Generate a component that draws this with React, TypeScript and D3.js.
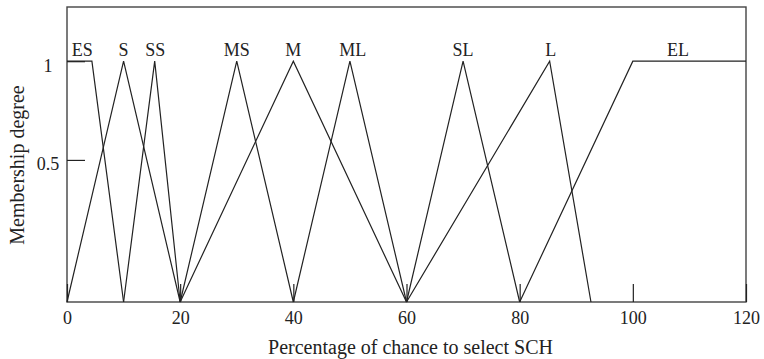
import React, { Component, createRef } from 'react';
import * as d3 from 'd3';

// fuzzy sets: names, break points (x) and membership (y)
const setNames = ['ES', 'S', 'SS', 'MS', 'M', 'ML', 'SL', 'L', 'EL'];
const setXs = [
  [0, 4.4, 10],
  [0, 10, 20],
  [10, 15.5, 20],
  [20, 30, 40],
  [20, 40, 60],
  [40, 50, 60],
  [60, 70, 80],
  [60, 85.3, 92.6],
  [80, 100, 120],
];
const setYs = [
  [1, 1, 0],
  [0, 1, 0],
  [0, 1, 0],
  [0, 1, 0],
  [0, 1, 0],
  [0, 1, 0],
  [0, 1, 0],
  [0, 1, 0],
  [0, 1, 1],
];
// where the set names sit along x
const labelXs = [2.7, 10, 15.6, 30, 40, 50.5, 70, 85.5, 108];

const xTicks = [0, 20, 40, 60, 80, 100, 120];
// the 0.5 mark sits a bit above mid height in the original figure
const yTickValues = [0.59, 1];
const yTickLabels = ['0.5', '1'];

const FONT = '"Liberation Serif", "Times New Roman", serif';

class App extends Component {
  anchor = createRef<SVGGElement>();

  componentDidMount() {
    const g = d3.select(this.anchor.current);
    g.selectAll('*').remove();

    const margin = { top: 7, right: 18, bottom: 57, left: 67 };
    const width = 764 - margin.left - margin.right;
    const height = 359 - margin.top - margin.bottom;

    const graph = g.append('g').attr('transform', `translate(${margin.left},${margin.top})`);

    const x = d3.scaleLinear().domain([0, 120]).range([0, width]);
    const y = d3.scaleLinear().domain([0, 1.225]).range([height, 0]);

    // frame
    graph
      .append('rect')
      .attr('width', width)
      .attr('height', height)
      .attr('fill', 'none')
      .attr('stroke', '#444')
      .attr('stroke-width', 1.4);

    // x axis, ticks pointing inward
    const xAxis = d3
      .axisBottom(x)
      .tickValues(xTicks)
      .tickSize(-18)
      .tickPadding(9)
      .tickFormat(d3.format('d'));
    const xAxisGroup = graph.append('g').attr('transform', `translate(0,${height})`).call(xAxis);
    xAxisGroup.select('.domain').remove();
    xAxisGroup.selectAll('line').attr('stroke', '#222').attr('stroke-width', 1.2);
    xAxisGroup
      .selectAll('text')
      .attr('font-family', FONT)
      .attr('font-size', 18)
      .attr('fill', '#222');

    // y axis
    const yAxis = d3
      .axisLeft(y)
      .tickValues(yTickValues)
      .tickSize(-18)
      .tickPadding(12)
      .tickFormat((d, i) => yTickLabels[i]);
    const yAxisGroup = graph.append('g').call(yAxis);
    yAxisGroup.select('.domain').remove();
    yAxisGroup.selectAll('line').attr('stroke', '#222').attr('stroke-width', 1.2);
    yAxisGroup
      .selectAll('text')
      .attr('font-family', FONT)
      .attr('font-size', 18)
      .attr('fill', '#222')
      .attr('text-anchor', 'middle')
      .attr('x', -19)
      .attr('dy', '0.55em');

    // membership functions
    const line = d3
      .line<[number, number]>()
      .x(d => x(d[0]))
      .y(d => y(d[1]));

    const sets = setNames.map((name, i) => ({
      name,
      pts: setXs[i].map((v, j) => [v, setYs[i][j]] as [number, number]),
      lx: labelXs[i],
    }));

    graph
      .selectAll('path.mf')
      .data(sets)
      .enter()
      .append('path')
      .attr('class', 'mf')
      .attr('d', d => line(d.pts))
      .attr('fill', 'none')
      .attr('stroke', '#222')
      .attr('stroke-width', 1.2);

    graph
      .selectAll('text.mf-label')
      .data(sets)
      .enter()
      .append('text')
      .attr('class', 'mf-label')
      .attr('x', d => x(d.lx))
      .attr('y', y(1) - 5)
      .attr('text-anchor', 'middle')
      .attr('font-family', FONT)
      .attr('font-size', 18)
      .attr('fill', '#222')
      .text(d => d.name);

    // axis titles
    g.append('text')
      .attr('x', margin.left + width / 2 + 4)
      .attr('y', 354)
      .attr('text-anchor', 'middle')
      .attr('font-family', FONT)
      .attr('font-size', 20)
      .attr('fill', '#222')
      .text('Percentage of chance to select SCH');

    g.append('text')
      .attr('transform', `translate(24,165) rotate(-90)`)
      .attr('text-anchor', 'middle')
      .attr('font-family', FONT)
      .attr('font-size', 20)
      .attr('fill', '#222')
      .text('Membership degree');
  }

  render() {
    return (
      <svg width={764} height={359} style={{ position: 'absolute', left: 0, top: 0, background: '#fff' }}>
        <g ref={this.anchor} />
      </svg>
    );
  }
}

export default App;
